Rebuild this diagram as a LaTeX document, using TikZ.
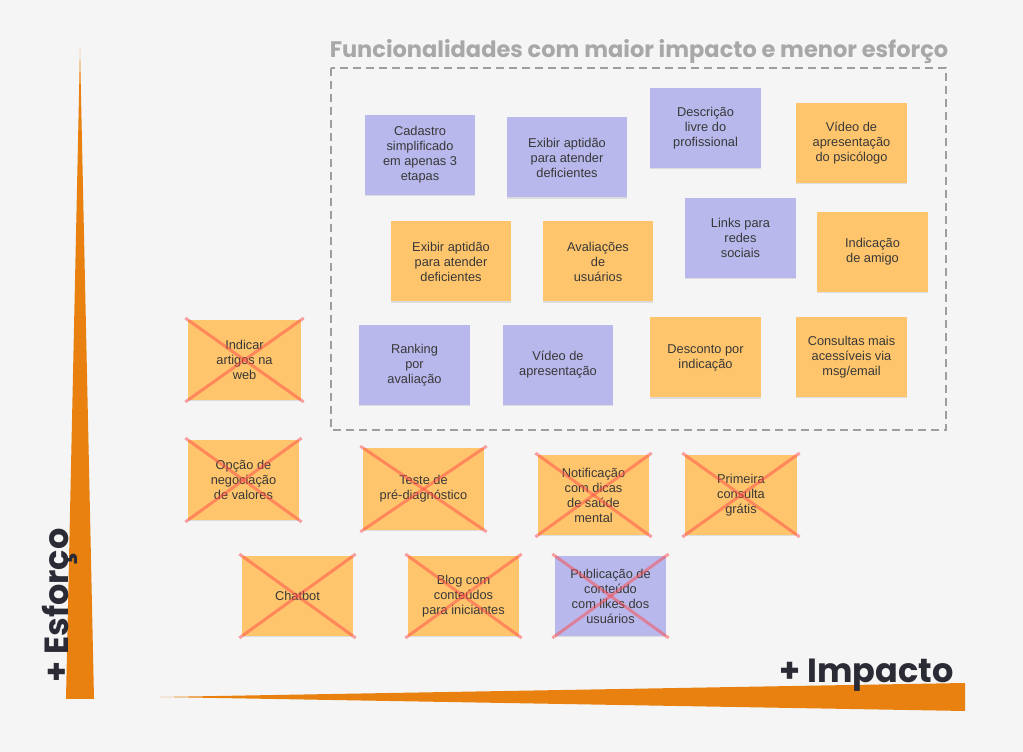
\documentclass[tikz,border=0pt]{standalone}
\usepackage{fontspec}
\setmainfont{Liberation Sans}
\newfontfamily\poppins{Poppins}
\usetikzlibrary{shadows}

\definecolor{bgpaper}{HTML}{F5F5F5}
\definecolor{noteorange}{HTML}{FFC56C}
\definecolor{notepurple}{HTML}{B8B8EC}
\definecolor{notetext}{HTML}{383838}
\definecolor{axisorange}{HTML}{E8810F}
\definecolor{axistext}{HTML}{2B2B36}
\definecolor{titlegray}{HTML}{A8A8A8}
\definecolor{framegray}{HTML}{9E9E9E}
\definecolor{crossred}{HTML}{FF4A4A}

\tikzset{
  note/.style={minimum width=111pt,minimum height=80pt,inner sep=2pt,align=center,
    text=notetext,font=\fontsize{12.8}{15}\selectfont,
    drop shadow={shadow xshift=0pt,shadow yshift=-1.5pt,opacity=0.2}},
  orangenote/.style={note,fill=noteorange},
  purplenote/.style={note,fill=notepurple},
  cross/.style={crossred,opacity=0.5,line width=3pt,shorten <=-3pt,shorten >=-3pt},
  axislabel/.style={text=axistext,font=\poppins\bfseries\fontsize{33.5}{33.5}\selectfont,inner sep=0pt}
}

\begin{document}
\begin{tikzpicture}[x=1pt,y=1pt]
  \fill[bgpaper] (0,0) rectangle (1023,752);
  \useasboundingbox (0,0) rectangle (1023,752);

  % axes
  \fill[axisorange] (80,703)--(66,53)--(94,53)--cycle;
  \fill[axisorange] (160,55)--(965,69)--(965,41)--cycle;
  \node[axislabel,anchor=base west,rotate=90] (esforco) at (68,69) {+ Esforço};
  \node[axislabel,anchor=base west] (impacto) at (779,69) {+ Impacto};

  % best region
  \draw[framegray,line width=1.3pt,dash pattern=on 8pt off 5pt] (331,684) rectangle (946,322);
  \node[text=titlegray,font=\poppins\bfseries\fontsize{22.5}{22.5}\selectfont,anchor=base] (title) at (639,694)
    {Funcionalidades com maior impacto e menor esforço};

  \node[purplenote,minimum width=110pt] (cadastro) at (420,597) {Cadastro\\simplificado\\em apenas 3\\etapas};
  \node[purplenote,minimum width=120pt] (aptidaoa) at (567,594.5) {Exibir aptidão\\para atender\\deficientes};
  \node[purplenote] (descricao) at (705.5,624) {Descrição\\livre do\\profissional};
  \node[orangenote] (videopsi) at (851.5,609) {Vídeo de\\apresentação\\do psicólogo};
  \node[orangenote,minimum width=120pt] (aptidaob) at (451,490.5) {Exibir aptidão\\para atender\\deficientes};
  \node[orangenote,minimum width=110pt] (avaliacoes) at (598,490.5) {Avaliações\\de\\usuários};
  \node[purplenote] (links) at (740.5,514) {Links para\\redes\\sociais};
  \node[orangenote] (amigo) at (872.5,500) {Indicação\\de amigo};
  \node[purplenote] (ranking) at (414.5,387) {Ranking\\por\\avaliação};
  \node[purplenote,minimum width=110pt] (video) at (558,387) {Vídeo de\\apresentação};
  \node[orangenote] (desconto) at (705.5,394.5) {Desconto por\\indicação};
  \node[orangenote] (consultas) at (851.5,395) {Consultas mais\\acessíveis via\\msg/email};

  % discarded
  \node[orangenote,minimum width=113pt] (artigos) at (244.5,392) {Indicar\\artigos na\\web};
  \node[orangenote] (negociacao) at (243.5,272) {Opção de\\negociação\\de valores};
  \node[orangenote,minimum width=121pt,minimum height=82pt] (teste) at (423.5,263) {Teste de\\pré-diagnóstico};
  \node[orangenote] (notificacao) at (593.5,257) {Notificação\\com dicas\\de saúde\\mental};
  \node[orangenote,minimum width=112pt] (primeira) at (741,257) {Primeira\\consulta\\grátis};
  \node[orangenote] (chatbot) at (297.5,156) {Chatbot};
  \node[orangenote] (blog) at (463.5,156) {Blog com\\conteúdos\\para iniciantes};
  \node[purplenote] (publicacao) at (610.5,156) {Publicação de\\conteúdo\\com likes dos\\usuários};

  \draw[cross] (artigos.north west)--(artigos.south east);
  \draw[cross] (artigos.south west)--(artigos.north east);
  \draw[cross] (negociacao.north west)--(negociacao.south east);
  \draw[cross] (negociacao.south west)--(negociacao.north east);
  \draw[cross] (teste.north west)--(teste.south east);
  \draw[cross] (teste.south west)--(teste.north east);
  \draw[cross] (notificacao.north west)--(notificacao.south east);
  \draw[cross] (notificacao.south west)--(notificacao.north east);
  \draw[cross] (primeira.north west)--(primeira.south east);
  \draw[cross] (primeira.south west)--(primeira.north east);
  \draw[cross] (chatbot.north west)--(chatbot.south east);
  \draw[cross] (chatbot.south west)--(chatbot.north east);
  \draw[cross] (blog.north west)--(blog.south east);
  \draw[cross] (blog.south west)--(blog.north east);
  \draw[cross] (publicacao.north west)--(publicacao.south east);
  \draw[cross] (publicacao.south west)--(publicacao.north east);
\end{tikzpicture}
\end{document}
